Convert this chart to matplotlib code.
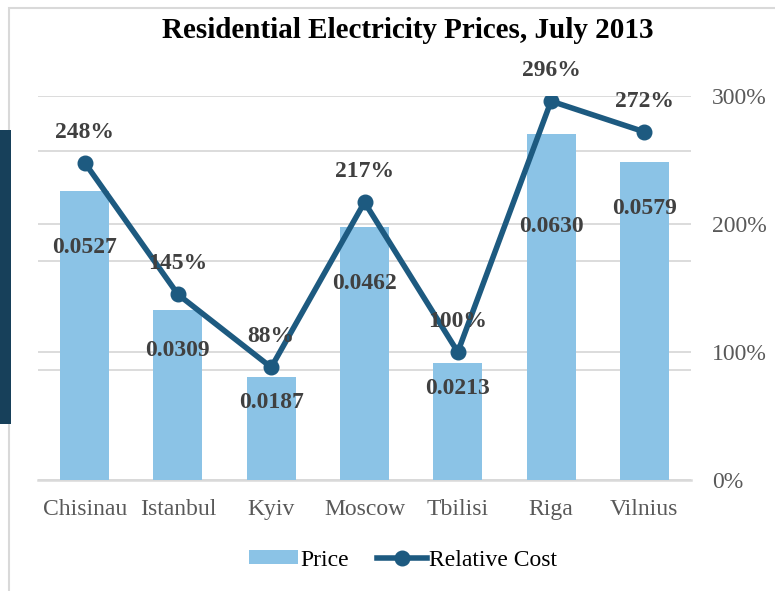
import matplotlib
matplotlib.use('Agg')
from matplotlib import pyplot as plt
from matplotlib.patches import Rectangle
from matplotlib.lines import Line2D
from matplotlib.ticker import PercentFormatter

cities = ['Chisinau', 'Istanbul', 'Kyiv', 'Moscow', 'Tbilisi', 'Riga', 'Vilnius']
price = [0.0527, 0.0309, 0.0187, 0.0462, 0.0213, 0.0630, 0.0579]
relative_cost = [2.48, 1.45, 0.88, 2.17, 1.00, 2.96, 2.72]
# how far below the bar top each price label sits (points)
price_label_drop = [41, 29, 18, 41, 18, 66, 33]

bar_color = '#8BC3E6'
line_color = '#1D5A80'
grid_color = '#D9D9D9'
label_color = '#404040'

plt.rcParams['font.family'] = ['Liberation Serif', 'DejaVu Serif']

fig = plt.figure(figsize=(7.75, 5.91), dpi=100)

# outer frame and dark tab on the left
fig.patches.append(Rectangle((9 / 775, -0.1), 1.2, 1 - 8 / 591 + 0.1, transform=fig.transFigure,
                             fill=False, edgecolor=grid_color, linewidth=1.5))
fig.patches.append(Rectangle((0, 1 - 424 / 591), 11 / 775, 294 / 591, transform=fig.transFigure,
                             facecolor='#17405A', edgecolor='none'))

pos = [38 / 775, 1 - 480 / 591, 653 / 775, 384 / 591]
x = list(range(len(cities)))

# base axes: right-hand percent scale + its gridlines
ax = fig.add_axes(pos)
axb = ax.twinx()
axl = ax.twinx()

ax.set_xlim(-0.5, len(cities) - 0.5)
ax.set_ylim(0, 3.0)
ax.set_yticks([0, 1, 2, 3])
ax.yaxis.set_major_formatter(PercentFormatter(1.0, decimals=0))
ax.yaxis.tick_right()
ax.tick_params(axis='y', length=0, pad=15, labelsize=17, labelcolor='#595959',
               labelleft=False, labelright=True)
ax.tick_params(axis='x', length=0, pad=14, labelsize=17, labelcolor='#595959')
ax.set_xticks(x)
ax.set_xticklabels(cities)
ax.grid(axis='y', color=grid_color, linewidth=1.3)
for s in ax.spines.values():
    s.set_visible(False)
ax.spines['bottom'].set_visible(True)
ax.spines['bottom'].set_color(grid_color)
ax.spines['bottom'].set_linewidth(1.8)

# bars on the left-hand price scale
axb.set_ylim(0, 0.07)
axb.set_yticks([0.02, 0.04, 0.06])
axb.tick_params(axis='y', length=0, labelleft=False, labelright=False)
axb.grid(axis='y', color=grid_color, linewidth=1.3)
axb.set_axisbelow(True)
axb.patch.set_visible(False)
for s in axb.spines.values():
    s.set_visible(False)
axb.bar(x, price, width=0.525, color=bar_color, zorder=2)
for xi, p, d in zip(x, price, price_label_drop):
    axb.annotate(f'{p:.4f}', (xi, p), xytext=(0, -d), textcoords='offset points',
                 ha='center', va='center', fontsize=17, fontweight='bold', color=label_color, zorder=5)

# relative cost line
axl.set_ylim(0, 3.0)
axl.set_yticks([])
axl.patch.set_visible(False)
for s in axl.spines.values():
    s.set_visible(False)
axl.plot(x, relative_cost, color=line_color, linewidth=4, marker='o', markersize=10.5, zorder=3)
for xi, r in zip(x, relative_cost):
    axl.annotate(f'{r * 100:.0f}%', (xi, r), xytext=(0, 22), textcoords='offset points',
                 ha='center', va='center', fontsize=17, fontweight='bold', color=label_color)

fig.text(408 / 775, 1 - 30 / 591, 'Residential Electricity Prices, July 2013', ha='center', va='center',
         fontsize=21, fontweight='bold', color='black')

handles = [Rectangle((0, 0), 1, 1, facecolor=bar_color, edgecolor='none'),
           Line2D([], [], color=line_color, linewidth=4, marker='o', markersize=10.5)]
fig.legend(handles, ['Price', 'Relative Cost'], loc='center', bbox_to_anchor=(403 / 775, 1 - 560 / 591),
           ncol=2, frameon=False, fontsize=17, handlelength=2.1, handleheight=0.5,
           columnspacing=1.2, handletextpad=0.1)

plt.savefig('out.png', dpi=100)
